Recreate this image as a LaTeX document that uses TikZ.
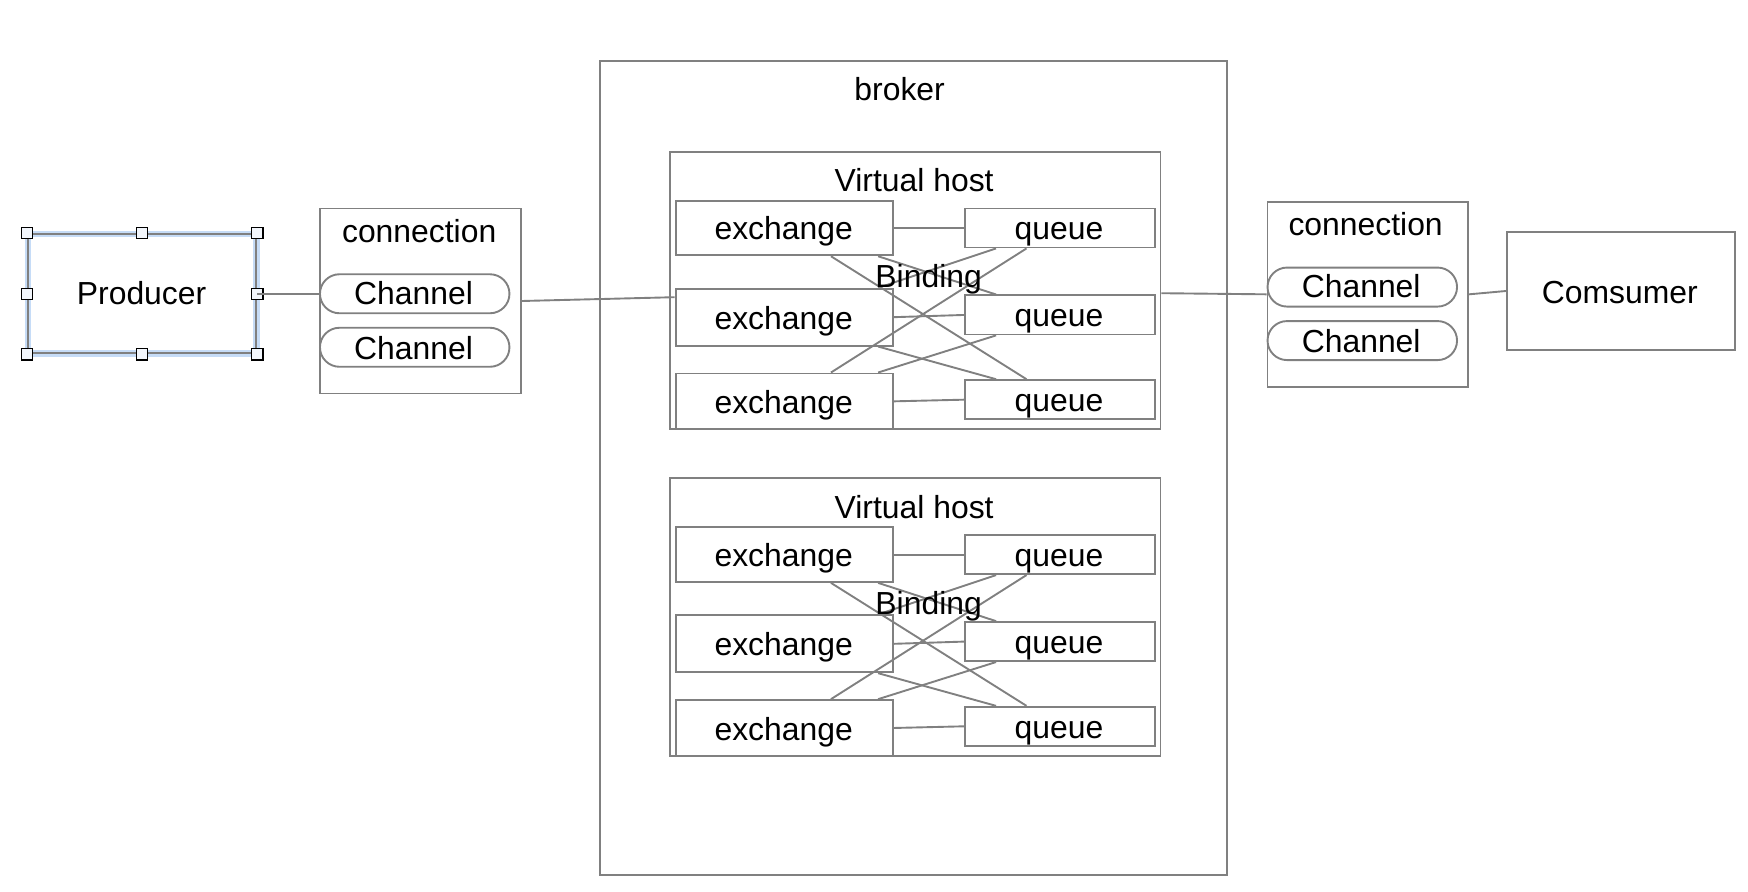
\documentclass[tikz,border=0pt]{standalone}
\usepackage{fontspec}
\setmainfont{Liberation Sans}
\usetikzlibrary{fit,calc}
\definecolor{edge}{HTML}{808080}
\definecolor{halo}{HTML}{C6DCF7}
\definecolor{hfill}{HTML}{F2F6FC}
\begin{document}
\begin{tikzpicture}[x=0.5pt,y=-0.5pt,
  every node/.style={font=\fontsize{14.3pt}{17pt}\selectfont, text=black},
  box/.style={draw=edge, line width=0.85pt, inner sep=0pt},
  pill/.style={box, rounded corners=8.75pt},
  link/.style={draw=edge, line width=0.85pt},
  lbl/.style={inner sep=0pt, text height=10.2pt, text depth=0pt},
  handle/.style={draw=black, fill=hfill, line width=0.6pt, minimum size=5pt, inner sep=0pt}]
\useasboundingbox (0,0) rectangle (1568,800);

% Producer with selection
\draw[halo, line width=2.9pt] (25,210) rectangle (230,317);
\node[box, fit={(25,210)(230,317)}] (prod) {};
\node[lbl] (prodt) at (127,263) {Producer};
\node[handle] (h1) at (prod.north west) {};
\node[handle] (h2) at (prod.north) {};
\node[handle] (h3) at (prod.north east) {};
\node[handle] (h4) at (prod.west) {};
\node[handle] (h5) at (prod.east) {};
\node[handle] (h6) at (prod.south west) {};
\node[handle] (h7) at (prod.south) {};
\node[handle] (h8) at (prod.south east) {};

% left connection
\node[box, fit={(287,187)(467,353)}] (conn1) {};
\node[lbl] (conn1t) at (376,207) {connection};
\node[pill, fit={(287,246)(457,281)}] (ch1) {};
\node[lbl] (ch1t) at (371,263) {Channel};
\node[pill, fit={(287,294)(457,329)}] (ch2) {};
\node[lbl] (ch2t) at (371,312) {Channel};

% broker
\node[box, fit={(538,55)(1101,785)}] (broker) {};
\node[lbl] (brokert) at (807,80) {broker};

\foreach \i/\o in {1/0,2/293}{
  \node[box, fit={(601,136+\o)(1041,385+\o)}] (vh-\i) {};
  \node[lbl] (vht-\i) at (820,162+\o) {Virtual host};
  \node[box, fit={(606,180+\o)(801,229+\o)}] (ex1-\i) {};
  \node[lbl] (ex1t-\i) at (703,205+\o) {exchange};
  \node[box, fit={(606,259+\o)(801,310+\o)}] (ex2-\i) {};
  \node[lbl] (ex2t-\i) at (703,285+\o) {exchange};
  \node[box, fit={(606,335+\o)(801,385+\o)}] (ex3-\i) {};
  \node[lbl] (ex3t-\i) at (703,361+\o) {exchange};
  \node[box, fit={(866,187+\o)(1036,222+\o)}] (q1-\i) {};
  \node[lbl] (q1t-\i) at (950,205+\o) {queue};
  \node[box, fit={(866,265+\o)(1036,300+\o)}] (q2-\i) {};
  \node[lbl] (q2t-\i) at (950,283+\o) {queue};
  \node[box, fit={(866,341+\o)(1036,376+\o)}] (q3-\i) {};
  \node[lbl] (q3t-\i) at (950,359+\o) {queue};
  \draw[link] (ex1-\i.east) -- (q1-\i.west);
  \draw[link] (ex2-\i.east) -- (q2-\i.west);
  \draw[link] (ex3-\i.east) -- (q3-\i.west);
  \draw[link] ($(ex1-\i.south west)!0.713!(ex1-\i.south east)$) -- ($(q3-\i.north west)!0.324!(q3-\i.north east)$);
  \draw[link] ($(ex1-\i.south west)!0.928!(ex1-\i.south east)$) -- ($(q2-\i.north west)!0.165!(q2-\i.north east)$);
  \draw[link] ($(ex2-\i.north west)!0.928!(ex2-\i.north east)$) -- ($(q1-\i.south west)!0.165!(q1-\i.south east)$);
  \draw[link] ($(ex3-\i.north west)!0.713!(ex3-\i.north east)$) -- ($(q1-\i.south west)!0.324!(q1-\i.south east)$);
  \draw[link] ($(ex2-\i.south west)!0.928!(ex2-\i.south east)$) -- ($(q3-\i.north west)!0.165!(q3-\i.north east)$);
  \draw[link] ($(ex3-\i.north west)!0.928!(ex3-\i.north east)$) -- ($(q2-\i.south west)!0.165!(q2-\i.south east)$);
  \node[lbl] (bind-\i) at (833,248+\o) {Binding};
}

% right connection
\node[box, fit={(1137,181)(1317,347)}] (conn2) {};
\node[lbl] (conn2t) at (1225,201) {connection};
\node[pill, fit={(1137,240)(1307,275)}] (ch3) {};
\node[lbl] (ch3t) at (1221,257) {Channel};
\node[pill, fit={(1137,288)(1307,323)}] (ch4) {};
\node[lbl] (ch4t) at (1221,306) {Channel};

% consumer
\node[box, fit={(1352,208)(1556,314)}] (cons) {};
\node[lbl] (const) at (1453,262) {Comsumer};

% connectors
\draw[link] (prod.east) -- (ch1.west);
\draw[link] (conn1.east) -- ($(ex2-1.north west)!0.16!(ex2-1.south west)$);
\draw[link] ($(vh-1.north east)!0.51!(vh-1.south east)$) -- (conn2.west);
\draw[link] (conn2.east) -- (cons.west);
\end{tikzpicture}
\end{document}
